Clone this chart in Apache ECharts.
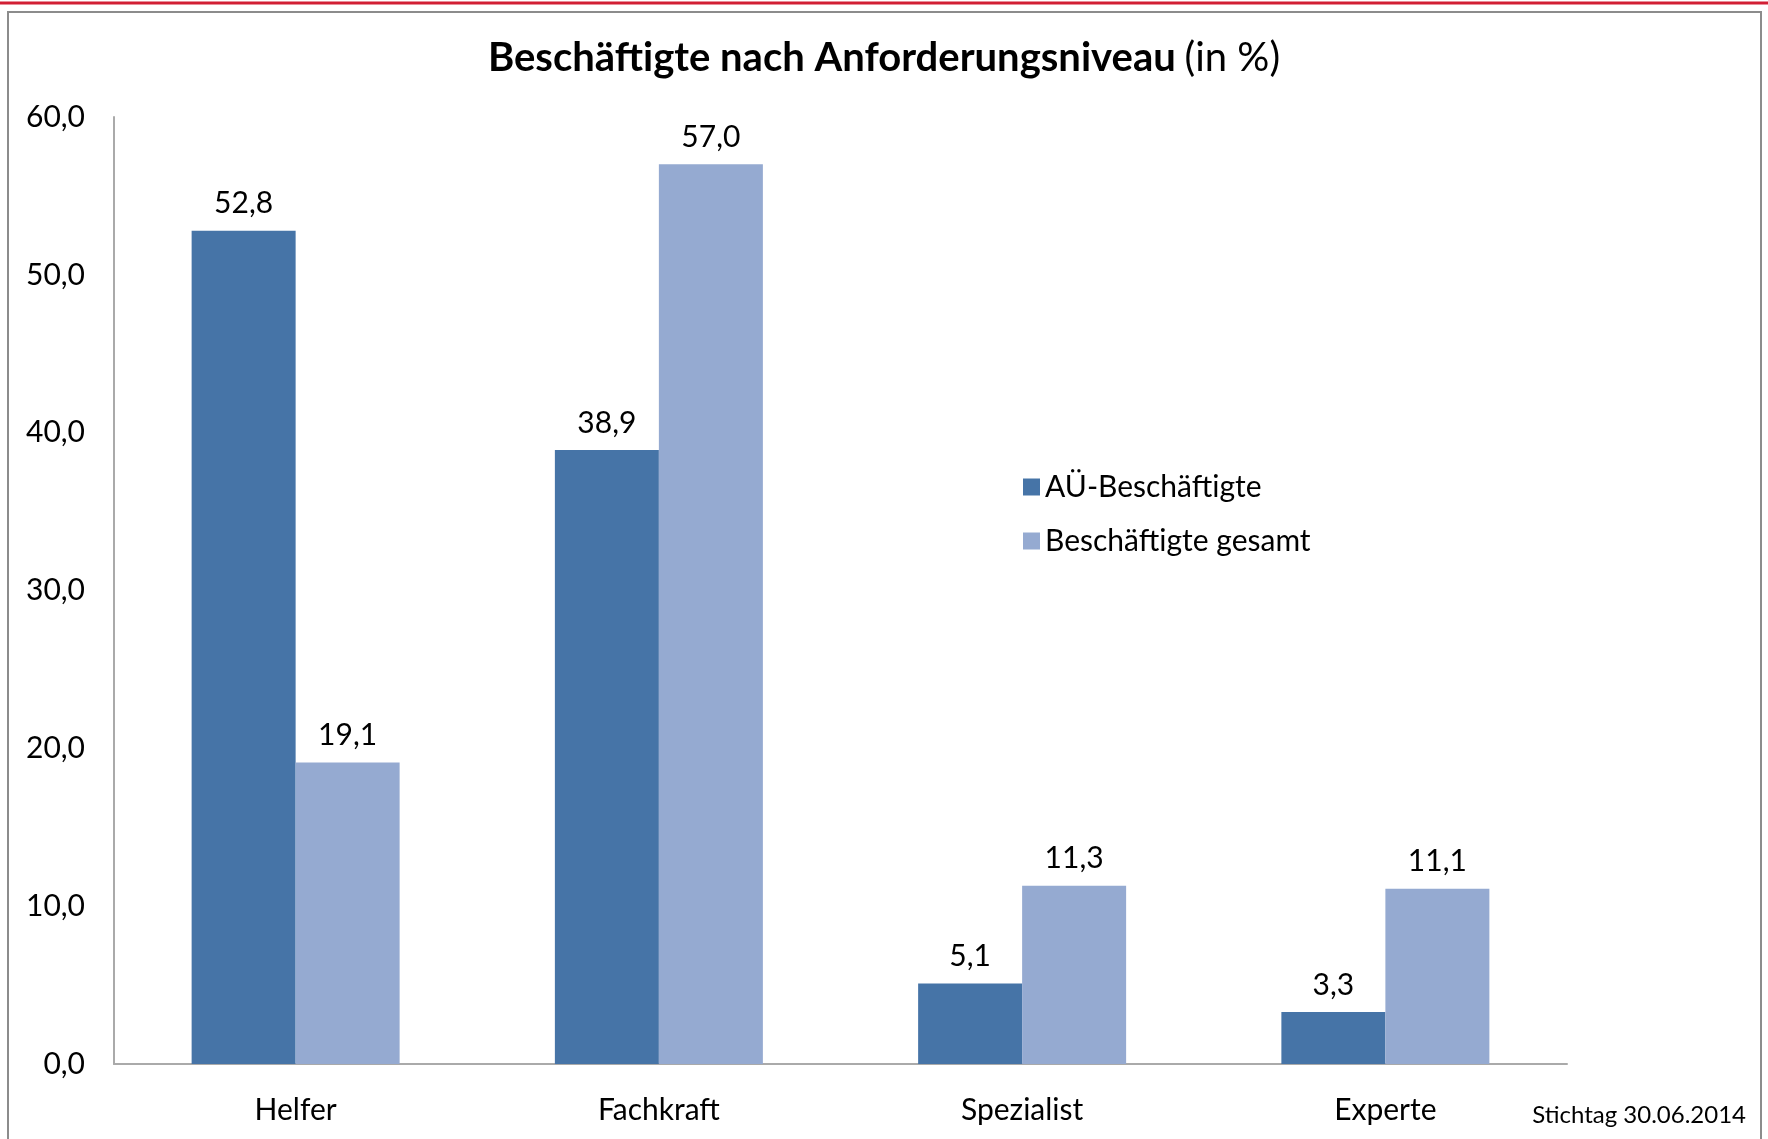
<!DOCTYPE html>
<html>
<head>
<meta charset="utf-8">
<script src="https://cdn.jsdelivr.net/npm/echarts@6/dist/echarts.min.js"></script>
<style>
	html, body { margin: 0; padding: 0; background: #fff; }
	#chart { width: 1768px; height: 1139px; }
</style>
</head>
<body>
<div id="chart"></div>
<script>
var categories = ['Helfer', 'Fachkraft', 'Spezialist', 'Experte'];
var seriesNames = ['AÜ-Beschäftigte', 'Beschäftigte gesamt'];
var auValues = [52.8, 38.9, 5.1, 3.3];
var gesamtValues = [19.1, 57.0, 11.3, 11.1];
var yTicks = { min: 0, max: 60, interval: 10 };
var footnote = 'Stichtag 30.06.2014';

var fontName = 'Lato';
var baseSize = 30;

function fmt(v) {
	return Number(v).toFixed(1).replace('.', ',');
}

var mainChart = echarts.init(document.getElementById('chart'));

var labelStyle = {
	show: true,
	position: 'top',
	distance: 12,
	color: '#000',
	fontFamily: fontName,
	fontSize: baseSize,
	formatter: function (p) { return fmt(p.value); }
};

mainChart.setOption({
	animation: false,
	backgroundColor: '#fff',
	textStyle: { fontFamily: fontName },
	title: {
		text: '{b|Beschäftigte nach Anforderungsniveau}  {n|(in %)}',
		left: 'center',
		top: 33,
		textStyle: {
			rich: {
				b: { fontFamily: fontName, fontSize: 40, fontWeight: 'bold', color: '#000' },
				n: { fontFamily: fontName, fontSize: 40, fontWeight: 'normal', color: '#000' }
			}
		}
	},
	legend: {
		orient: 'vertical',
		left: 1018,
		top: 467,
		itemWidth: 17,
		itemHeight: 17,
		itemGap: 24,
		icon: 'rect',
		selectedMode: false,
		textStyle: { fontFamily: fontName, fontSize: baseSize, color: '#000' },
		data: seriesNames
	},
	grid: {
		left: 114,
		right: 201,
		top: 117,
		bottom: 75,
		containLabel: false
	},
	xAxis: {
		type: 'category',
		data: categories,
		axisLine: { lineStyle: { color: '#aaaaaa', width: 2 } },
		axisTick: { show: false },
		axisLabel: { margin: 31, color: '#000', fontFamily: fontName, fontSize: baseSize }
	},
	yAxis: {
		type: 'value',
		min: yTicks.min,
		max: yTicks.max,
		interval: yTicks.interval,
		splitLine: { show: false },
		axisLine: { show: true, lineStyle: { color: '#aaaaaa', width: 2 } },
		axisTick: { show: false },
		axisLabel: {
			margin: 29,
			color: '#000',
			fontFamily: fontName,
			fontSize: baseSize,
			formatter: fmt
		}
	},
	series: [{
			name: seriesNames[0],
			type: 'bar',
			data: auValues,
			barWidth: 104,
			barGap: '0%',
			itemStyle: { color: '#4674a7' },
			label: labelStyle
		}, {
			name: seriesNames[1],
			type: 'bar',
			data: gesamtValues,
			barWidth: 104,
			barGap: '0%',
			itemStyle: { color: '#95aad1' },
			label: labelStyle
		}
	],
	graphic: [{
			type: 'line',
			shape: { x1: 0, y1: 3, x2: 1768, y2: 3 },
			style: { stroke: '#d21f34', lineWidth: 3 }
		}, {
			type: 'rect',
			shape: { x: 8, y: 12, width: 1753, height: 1140 },
			style: { fill: 'none', stroke: '#8c8c8c', lineWidth: 2 }
		}, {
			type: 'text',
			right: 22,
			top: 1103,
			style: { text: footnote, fontFamily: fontName, fontSize: 24, fill: '#000' }
		}
	]
});
</script>
</body>
</html>
